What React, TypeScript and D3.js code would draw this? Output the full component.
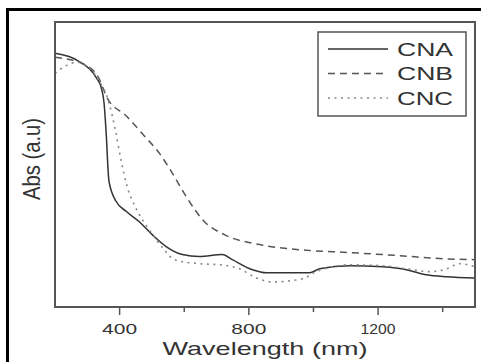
import * as d3 from "d3";

// wavelength (nm) / absorbance (a.u.)
const cnaX = [200, 274, 327, 343, 352, 358, 367, 389, 420, 460, 501, 544, 594, 647, 718, 749, 811, 854, 988, 1019, 1112, 1214, 1288, 1350, 1412, 1500];
const cnaY = [0.89, 0.862, 0.806, 0.77, 0.714, 0.618, 0.442, 0.371, 0.336, 0.3, 0.254, 0.212, 0.184, 0.177, 0.184, 0.166, 0.131, 0.12, 0.12, 0.134, 0.145, 0.141, 0.131, 0.113, 0.106, 0.102];

const cnbX = [200, 284, 336, 361, 420, 476, 522, 563, 609, 662, 724, 833, 957, 1112, 1267, 1391, 1500];
const cnbY = [0.876, 0.855, 0.802, 0.735, 0.671, 0.601, 0.541, 0.47, 0.382, 0.3, 0.254, 0.219, 0.201, 0.191, 0.18, 0.17, 0.166];

const cncX = [200, 231, 268, 299, 336, 367, 386, 405, 423, 451, 491, 538, 569, 647, 715, 771, 823, 873, 966, 1009, 1112, 1214, 1288, 1360, 1406, 1453, 1500];
const cncY = [0.82, 0.845, 0.859, 0.845, 0.795, 0.717, 0.625, 0.512, 0.424, 0.346, 0.272, 0.201, 0.166, 0.152, 0.148, 0.134, 0.102, 0.088, 0.099, 0.124, 0.148, 0.145, 0.134, 0.124, 0.131, 0.152, 0.141];

const majorTicks = [400, 800, 1200];
const minorTicks = [600, 1000, 1400];
const seriesNames = ["CNA", "CNB", "CNC"];

const margin = { top: 22, left: 55, right: 6, btm: 55 };
const width = 481;
const height = 362;

export default function App() {
  const innerW = width - margin.left - margin.right;
  const innerH = height - margin.top - margin.btm;

  const x = d3.scaleLinear().domain([200, 1500]).range([0, innerW]);
  const y = d3.scaleLinear().domain([0, 1]).range([innerH, 0]);

  const line = d3
    .line<[number, number]>()
    .x((d) => x(d[0]))
    .y((d) => y(d[1]))
    .curve(d3.curveMonotoneX);

  const series = [
    { pts: cnaX.map((v, i) => [v, cnaY[i]] as [number, number]), color: "#333", dash: "none", w: 1.5 },
    { pts: cnbX.map((v, i) => [v, cnbY[i]] as [number, number]), color: "#555", dash: "7 5", w: 1.5 },
    { pts: cncX.map((v, i) => [v, cncY[i]] as [number, number]), color: "#888", dash: "2 4.5", w: 1.6 },
  ];

  const font = "'Liberation Sans', Arial, sans-serif";

  return (
    <svg
      width={width}
      height={height}
      style={{ position: "absolute", left: 0, top: 0, background: "#fff" }}
    >
      {/* outer black frame, running off the right and bottom edges */}
      <rect x={7.5} y={9.5} width={490} height={370} fill="none" stroke="#000" strokeWidth={3} />

      <g transform={`translate(${margin.left},${margin.top})`}>
        {series.map((s, i) => (
          <path
            key={i}
            d={line(s.pts) || ""}
            fill="none"
            stroke={s.color}
            strokeWidth={s.w}
            strokeDasharray={s.dash}
          />
        ))}

        <rect x={0} y={0} width={innerW} height={innerH} fill="none" stroke="#555" strokeWidth={2} />

        {majorTicks.map((t) => (
          <g key={t} transform={`translate(${x(t)},${innerH})`}>
            <line y1={0} y2={8} stroke="#555" strokeWidth={1.5} />
            <text
              y={27}
              textAnchor="middle"
              fontFamily={font}
              fontSize={14}
              fill="#333"
              textLength={35}
              lengthAdjust="spacingAndGlyphs"
            >
              {t}
            </text>
          </g>
        ))}
        {minorTicks.map((t) => (
          <line key={t} x1={x(t)} x2={x(t)} y1={innerH} y2={innerH + 5} stroke="#555" strokeWidth={1.5} />
        ))}

        {/* legend */}
        <g transform="translate(263,10)">
          <rect x={0} y={0} width={148} height={84} fill="#fff" stroke="#555" strokeWidth={1.5} />
          {seriesNames.map((n, i) => (
            <g key={n} transform={`translate(0,${17 + i * 24.5})`}>
              <line
                x1={10}
                x2={70}
                y1={0}
                y2={0}
                stroke={series[i].color}
                strokeWidth={series[i].w}
                strokeDasharray={series[i].dash}
              />
              <text
                x={79}
                y={6.5}
                fontFamily={font}
                fontSize={18}
                fill="#333"
                textLength={56}
                lengthAdjust="spacingAndGlyphs"
              >
                {n}
              </text>
            </g>
          ))}
        </g>
      </g>

      <text
        x={265}
        y={355}
        textAnchor="middle"
        fontFamily={font}
        fontSize={19}
        fill="#333"
        textLength={205}
        lengthAdjust="spacingAndGlyphs"
      >
        Wavelength (nm)
      </text>

      <text
        transform="translate(40,159) rotate(-90) scale(1,1.3)"
        textAnchor="middle"
        fontFamily={font}
        fontSize={19}
        fill="#333"
        textLength={82}
        lengthAdjust="spacingAndGlyphs"
      >
        Abs (a.u)
      </text>
    </svg>
  );
}
